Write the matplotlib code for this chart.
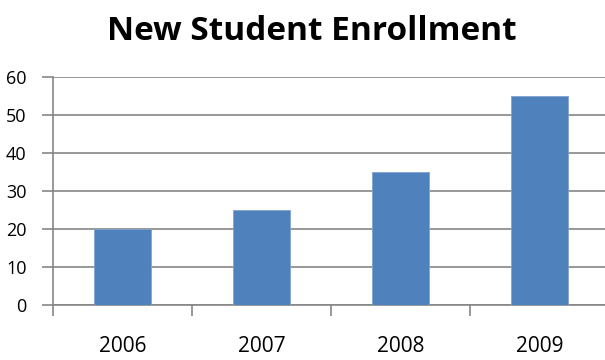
import matplotlib.pyplot as plt

years = ['2006', '2007', '2008', '2009']
enrollment = [20, 25, 35, 55]

plt.rcParams['font.family'] = 'Open Sans'

fig = plt.figure(figsize=(6.05, 3.6), dpi=100)
ax = fig.add_axes([53 / 605, 1 - 305 / 360, 556 / 605, 228 / 360])

x = range(len(years))
ax.bar(x, enrollment, width=0.41, color='#4F81BD', edgecolor='#7FA3D0', linewidth=0.6, zorder=3)

ax.set_xlim(-0.5, 3.5)
ax.set_ylim(0, 60)
ax.set_yticks(range(0, 61, 10))
ax.set_xticks([i - 0.5 for i in range(len(years))])
ax.set_xticklabels([])
ax.set_xticks(list(x), minor=True)
ax.set_xticklabels(years, minor=True, fontsize=15)
ax.tick_params(axis='x', which='minor', length=0, pad=22)
ax.tick_params(axis='x', which='major', length=8, width=1.2, color='#868686')
ax.tick_params(axis='y', length=8, width=1.2, color='#868686', labelsize=13, pad=11)

ax.grid(axis='y', color='#868686', linewidth=1.2, zorder=0)
for s in ['top', 'right']:
    ax.spines[s].set_visible(False)
for s in ['left', 'bottom']:
    ax.spines[s].set_color('#868686')
    ax.spines[s].set_linewidth(1.2)

fig.text(0.515, 0.912, 'New Student Enrollment', ha='center', va='center',
         fontsize=24, fontweight='bold')

fig.savefig('out.png', dpi=100)
